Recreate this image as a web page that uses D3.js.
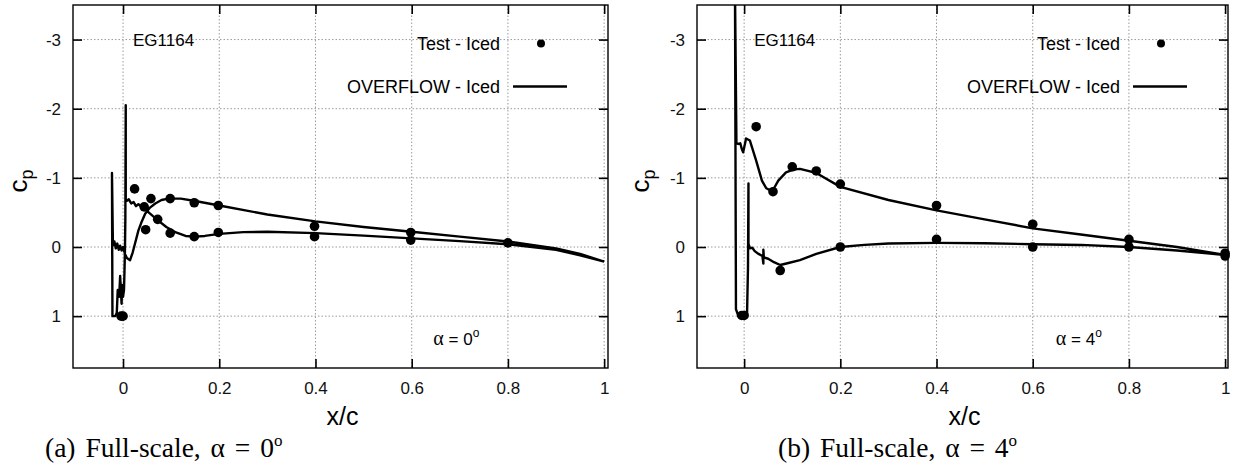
<!DOCTYPE html>
<html>
<head>
<meta charset="utf-8">
<script src="https://cdn.jsdelivr.net/npm/d3@7"></script>
<style>
  body { margin: 0; background: #fff; }
  svg { display: block; }
</style>
</head>
<body>
<div id="container"></div>
<script>
/* CONSTANTS AND GLOBALS */
const width = 1233,
  height = 473

const xTicks = [0, 0.2, 0.4, 0.6, 0.8, 1]
const xTickLabels = ["0", "0.2", "0.4", "0.6", "0.8", "1"]
const yTicks = [-3, -2, -1, 0, 1]
const yTickLabels = ["-3", "-2", "-1", "0", "1"]

/* DATA: [x/c, cp] */
// alpha = 0 deg, test points
const testAlpha0 = [
  [0, 1.0], [-0.004, 1.0], [0.024, -0.84], [0.044, -0.58], [0.047, -0.25], [0.058, -0.70],
  [0.072, -0.40], [0.098, -0.70], [0.098, -0.20], [0.148, -0.64], [0.148, -0.15],
  [0.198, -0.60], [0.198, -0.21], [0.398, -0.30], [0.398, -0.15],
  [0.598, -0.21], [0.598, -0.10], [0.80, -0.06]
]
// alpha = 0 deg, OVERFLOW (lower surface TE -> ice horn -> upper surface TE)
const cfdAlpha0 = [
  [1.0, 0.21], [0.95, 0.12], [0.9, 0.04], [0.8, -0.04], [0.7, -0.085], [0.6, -0.125],
  [0.5, -0.165], [0.4, -0.20], [0.3, -0.22], [0.25, -0.215], [0.2, -0.19], [0.17, -0.16],
  [0.15, -0.15], [0.13, -0.16], [0.11, -0.21], [0.09, -0.29], [0.07, -0.40], [0.055, -0.49],
  [0.045, -0.55], [0.038, -0.58], [0.032, -0.62], [0.027, -0.59], [0.022, -0.65],
  [0.017, -0.63], [0.012, -0.69], [0.008, -0.67], [0.0056, -0.68], [0.0056, -2.05],
  [0.0048, -0.4], [0.004, 0.05], [0.003, 0.35], [0.002, 0.62], [0.0, 0.72], [-0.002, 0.55],
  [-0.003, 0.82], [-0.006, 0.42], [-0.008, 0.72], [-0.011, 0.62], [-0.013, 0.95],
  [-0.016, 1.0], [-0.022, 1.0], [-0.023, -1.07], [-0.021, -0.02], [-0.018, -0.08],
  [-0.015, 0.02], [-0.012, -0.05], [-0.009, 0.04], [-0.006, -0.02], [-0.003, 0.05],
  [0.0, 0.0], [0.004, 0.1], [0.008, 0.16], [0.0146, 0.19], [0.02, 0.08], [0.026, -0.08],
  [0.032, -0.24], [0.039, -0.37], [0.046, -0.48], [0.056, -0.57], [0.067, -0.63],
  [0.08, -0.68], [0.094, -0.70], [0.12, -0.70], [0.15, -0.665], [0.2, -0.60],
  [0.3, -0.47], [0.4, -0.37], [0.5, -0.29], [0.6, -0.22], [0.7, -0.15], [0.8, -0.08],
  [0.9, 0.02], [0.95, 0.10], [1.0, 0.21]
]

// alpha = 4 deg, test points
const testAlpha4 = [
  [0, 0.99], [-0.005, 0.99], [0.025, -1.74], [0.06, -0.80], [0.075, 0.34], [0.10, -1.16],
  [0.15, -1.10], [0.2, -0.91], [0.2, 0.0], [0.4, -0.60], [0.4, -0.11],
  [0.6, -0.33], [0.6, 0.0], [0.8, -0.11], [0.8, 0.0], [1.0, 0.09], [1.0, 0.13]
]
// alpha = 4 deg, OVERFLOW
const cfdAlpha4 = [
  [1.0, 0.115], [0.9, 0.05], [0.8, 0.0], [0.7, -0.03], [0.6, -0.04], [0.5, -0.055],
  [0.4, -0.06], [0.3, -0.05], [0.25, -0.03], [0.2, 0.0], [0.15, 0.1], [0.116, 0.19],
  [0.09, 0.235], [0.075, 0.26], [0.062, 0.22], [0.05, 0.17], [0.041, 0.15], [0.04, 0.04],
  [0.04, 0.24], [0.038, 0.13], [0.03, 0.1], [0.022, 0.06], [0.017, 0.01], [0.012, 0.02],
  [0.009, -0.05], [0.009, -0.92], [0.008, 0.3], [0.006, 0.98], [0.0, 1.0], [-0.012, 1.0],
  [-0.017, 0.9], [-0.019, -3.7], [-0.016, -1.5], [-0.012, -1.49], [-0.008, -1.5],
  [-0.005, -1.42], [-0.002, -1.37], [0.002, -1.5], [0.004, -1.57], [0.012, -1.54],
  [0.025, -1.25], [0.037, -0.96], [0.046, -0.85], [0.054, -0.82], [0.063, -0.86],
  [0.071, -0.96], [0.087, -1.08], [0.102, -1.12], [0.116, -1.13], [0.133, -1.10],
  [0.15, -1.07], [0.2, -0.87], [0.3, -0.68], [0.4, -0.53], [0.5, -0.40], [0.6, -0.27],
  [0.7, -0.18], [0.8, -0.09], [0.9, 0.0], [1.0, 0.115]
]

const panels = [
  { id: "a", left: 73, right: 608, xDomain: [-0.104, 1.008], test: testAlpha0, cfd: cfdAlpha0,
    alpha: "0", caption: "(a)", captionX: 45, labelX: 27 },
  { id: "b", left: 697, right: 1228, xDomain: [-0.098, 1.006], test: testAlpha4, cfd: cfdAlpha4,
    alpha: "4", caption: "(b)", captionX: 778, labelX: 649 }
]
const plotTop = 5, plotBottom = 368
const sans = "'Liberation Sans', Arial, sans-serif"
const serif = "'Liberation Serif', 'Times New Roman', serif"

/* CREATE SVG ELEMENT */
const svg = d3.select("#container")
  .append("svg")
  .attr("width", width)
  .attr("height", height)

const yScale = d3.scaleLinear()
  .domain([-3.5, 1.75])
  .range([plotTop, plotBottom])

panels.forEach(p => {
  const xScale = d3.scaleLinear()
    .domain(p.xDomain)
    .range([p.left, p.right])

  const g = svg.append("g").attr("class", "panel-" + p.id)

  // clip for the curves
  g.append("clipPath")
    .attr("id", "clip-" + p.id)
    .append("rect")
    .attr("x", p.left).attr("y", plotTop)
    .attr("width", p.right - p.left).attr("height", plotBottom - plotTop)

  // grid
  g.selectAll(".vgrid")
    .data(xTicks)
    .join("line")
    .attr("class", "vgrid")
    .attr("x1", d => xScale(d)).attr("x2", d => xScale(d))
    .attr("y1", plotTop).attr("y2", plotBottom)
    .attr("stroke", "#9a9a9a")
    .attr("stroke-width", 1)
    .attr("stroke-dasharray", "1.5,2")

  g.selectAll(".hgrid")
    .data(yTicks)
    .join("line")
    .attr("class", "hgrid")
    .attr("x1", p.left).attr("x2", p.right)
    .attr("y1", d => yScale(d)).attr("y2", d => yScale(d))
    .attr("stroke", "#9a9a9a")
    .attr("stroke-width", 1)
    .attr("stroke-dasharray", "1.5,2")

  // axes: inward ticks on all four sides
  const fmtX = d => xTickLabels[xTicks.indexOf(d)]
  const fmtY = d => yTickLabels[yTicks.indexOf(d)]

  const xAxis = g.append("g")
    .attr("transform", `translate(0, ${plotBottom})`)
    .call(d3.axisBottom(xScale).tickValues(xTicks).tickFormat(fmtX).tickSizeInner(-9).tickSizeOuter(0).tickPadding(14))
  const xAxisTop = g.append("g")
    .attr("transform", `translate(0, ${plotTop})`)
    .call(d3.axisTop(xScale).tickValues(xTicks).tickFormat("").tickSizeInner(-9).tickSizeOuter(0))
  const yAxis = g.append("g")
    .attr("transform", `translate(${p.left}, 0)`)
    .call(d3.axisLeft(yScale).tickValues(yTicks).tickFormat(fmtY).tickSizeInner(-9).tickSizeOuter(0).tickPadding(12))
  const yAxisRight = g.append("g")
    .attr("transform", `translate(${p.right}, 0)`)
    .call(d3.axisRight(yScale).tickValues(yTicks).tickFormat("").tickSizeInner(-9).tickSizeOuter(0))

  ;[xAxis, xAxisTop, yAxis, yAxisRight].forEach(a => {
    a.select(".domain").remove()
    a.selectAll(".tick line").attr("stroke", "#000").attr("stroke-width", 1.6)
    a.selectAll("text").style("font-family", sans).style("font-size", "17px").attr("fill", "#111")
  })

  // frame
  g.append("rect")
    .attr("x", p.left).attr("y", plotTop)
    .attr("width", p.right - p.left).attr("height", plotBottom - plotTop)
    .attr("fill", "none")
    .attr("stroke", "#000")
    .attr("stroke-width", 1.4)

  // OVERFLOW line
  const lineGen = d3.line()
    .x(d => xScale(d[0]))
    .y(d => yScale(d[1]))

  g.append("path")
    .datum(p.cfd)
    .attr("clip-path", `url(#clip-${p.id})`)
    .attr("fill", "none")
    .attr("stroke", "#000")
    .attr("stroke-width", 2.4)
    .attr("stroke-linejoin", "round")
    .attr("d", lineGen)

  // Test points
  g.selectAll(".pt")
    .data(p.test)
    .join("circle")
    .attr("class", "pt")
    .attr("cx", d => xScale(d[0]))
    .attr("cy", d => yScale(d[1]))
    .attr("r", 4.8)
    .attr("fill", "#000")

  // airfoil name
  g.append("text")
    .attr("x", xScale(0) + 10)
    .attr("y", 46)
    .text("EG1164")
    .style("font-family", sans)
    .style("font-size", "17px")

  // legend
  const legX = p.right - 108
  g.append("text")
    .attr("x", legX).attr("y", 50)
    .attr("text-anchor", "end")
    .text("Test - Iced")
    .style("font-family", sans).style("font-size", "18px")
  g.append("circle")
    .attr("cx", legX + 41).attr("cy", 43.5).attr("r", 4)
    .attr("fill", "#000")
  g.append("text")
    .attr("x", legX).attr("y", 93)
    .attr("text-anchor", "end")
    .text("OVERFLOW - Iced")
    .style("font-family", sans).style("font-size", "18px")
  g.append("line")
    .attr("x1", legX + 13).attr("x2", legX + 67)
    .attr("y1", 86.5).attr("y2", 86.5)
    .attr("stroke", "#000").attr("stroke-width", 2.4)

  // angle label
  const al = g.append("text")
    .attr("x", xScale(p.id === "a" ? 0.645 : 0.648))
    .attr("y", 345)
    .style("font-family", sans).style("font-size", "17px")
  al.append("tspan").style("font-family", serif).style("font-size", "20px").text("\u03b1")
  al.append("tspan").text(" = " + p.alpha)
  al.append("tspan").attr("dy", -8).style("font-size", "12px").text("o")

  // axis titles
  g.append("text")
    .attr("x", (p.left + p.right) / 2 + 2)
    .attr("y", 425)
    .attr("text-anchor", "middle")
    .text("x/c")
    .style("font-family", sans).style("font-size", "25px")

  const yl = g.append("text")
    .attr("transform", `translate(${p.labelX}, 181) rotate(-90)`)
    .attr("text-anchor", "middle")
    .style("font-family", sans).style("font-size", "26px")
  yl.append("tspan").text("c")
  yl.append("tspan").attr("dy", 6).style("font-size", "18px").text("p")

  // caption
  const cap = g.append("text")
    .attr("x", p.captionX)
    .attr("y", 457)
    .style("font-family", serif).style("font-size", "27.5px")
    .attr("word-spacing", "3px")
  cap.append("tspan").text(p.caption + "  Full-scale, \u03b1 = " + p.alpha)
  cap.append("tspan").attr("dy", -11).style("font-size", "17px").text("o")
})
</script>
</body>
</html>
